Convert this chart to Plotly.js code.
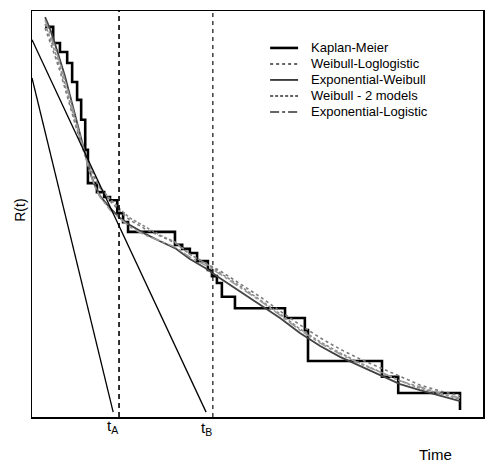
<!DOCTYPE html>
<html>
<head>
<meta charset="utf-8">
<script src="https://cdn.plot.ly/plotly-3.0.1.min.js"></script>
<style>html,body{margin:0;padding:0;background:#fff;}#chart{width:489px;height:464px;}</style>
</head>
<body>
<div id="chart"></div>
<script>
// Kaplan-Meier step estimate (time, R(t))
var kmTime = [2.9, 4.7, 6.2, 7.8, 8.9, 10.0, 10.9, 11.8, 12.4, 14.4, 16.0, 17.3, 18.9, 20.2, 21.3, 31.7, 33.3, 35.0, 36.6, 39.0, 39.9, 41.0, 42.1, 45.0, 56.1, 60.5, 61.2, 77.6, 81.2, 94.9];
var kmR    = [0.961, 0.921, 0.899, 0.872, 0.825, 0.781, 0.732, 0.658, 0.576, 0.554, 0.542, 0.534, 0.502, 0.480, 0.456, 0.424, 0.414, 0.404, 0.384, 0.362, 0.347, 0.330, 0.296, 0.268, 0.244, 0.214, 0.138, 0.099, 0.059, 0.017];

// Model curves (common time grid)
var modelTime = [2.9, 4.0, 5.1, 6.2, 7.3, 8.4, 9.5, 10.6, 11.8, 12.9, 14.0, 15.1, 17.3, 19.5, 21.7, 25.1, 28.4, 31.7, 35.0, 38.4, 41.7, 46.1, 50.6, 55.0, 59.4, 63.9, 68.3, 72.7, 77.2, 81.6, 86.0, 90.5, 94.9];
var weibullLoglogistic = [0.958, 0.926, 0.889, 0.852, 0.810, 0.768, 0.727, 0.682, 0.643, 0.611, 0.584, 0.564, 0.532, 0.507, 0.485, 0.463, 0.446, 0.429, 0.401, 0.379, 0.360, 0.328, 0.296, 0.261, 0.227, 0.195, 0.167, 0.143, 0.121, 0.099, 0.079, 0.064, 0.052];
var exponentialWeibull = [0.985, 0.956, 0.919, 0.882, 0.840, 0.793, 0.746, 0.697, 0.648, 0.601, 0.569, 0.544, 0.515, 0.490, 0.473, 0.451, 0.433, 0.416, 0.389, 0.367, 0.342, 0.310, 0.278, 0.244, 0.207, 0.175, 0.148, 0.126, 0.103, 0.081, 0.066, 0.052, 0.039];
var weibull2Models     = [0.968, 0.936, 0.899, 0.862, 0.820, 0.776, 0.731, 0.687, 0.645, 0.616, 0.589, 0.566, 0.537, 0.512, 0.490, 0.468, 0.448, 0.431, 0.401, 0.379, 0.355, 0.323, 0.288, 0.254, 0.217, 0.185, 0.158, 0.133, 0.111, 0.089, 0.071, 0.057, 0.044];
var exponentialLogistic= [0.978, 0.946, 0.909, 0.872, 0.830, 0.786, 0.739, 0.692, 0.645, 0.599, 0.566, 0.542, 0.510, 0.488, 0.468, 0.448, 0.433, 0.419, 0.394, 0.374, 0.352, 0.320, 0.286, 0.251, 0.214, 0.182, 0.155, 0.131, 0.111, 0.089, 0.074, 0.059, 0.047];

// Straight extrapolation lines reaching zero at tA and tB
var lineATime = [0, 18.0];
var lineAR    = [0.835, 0.012];
var lineBTime = [0, 38.6];
var lineBR    = [0.929, 0.012];

// Vertical reference times
var tA = 19.3;
var tB = 40.1;
var seriesNames = ["Kaplan-Meier", "Weibull-Loglogistic", "Exponential-Weibull", "Weibull - 2 models", "Exponential-Logistic"];

var FONT = "Liberation Sans, Arial, Helvetica, sans-serif";

var styles = [
  {shape: "hv", color: "#000", width: 2.6},
  {color: "#7a7a7a", width: 1.6, dash: "dot"},
  {color: "#444", width: 1.8},
  {color: "#8a8a8a", width: 1.6, dash: "3px,2px"},
  {color: "#9a9a9a", width: 1.6, dash: "dashdot"}
];
var seriesY = [kmR, weibullLoglogistic, exponentialWeibull, weibull2Models, exponentialLogistic];
var seriesX = [kmTime, modelTime, modelTime, modelTime, modelTime];

var traces = [];
for (var i = 0; i < seriesNames.length; i++) {
  traces.push({x: seriesX[i], y: seriesY[i], mode: "lines", line: styles[i], name: seriesNames[i], showlegend: false});
}
traces.push({x: lineATime, y: lineAR, mode: "lines", line: {color: "#000", width: 1.3}, showlegend: false});
traces.push({x: lineBTime, y: lineBR, mode: "lines", line: {color: "#000", width: 1.3}, showlegend: false});
traces.push({x: [tA, tA], y: [0, 1], mode: "lines", line: {color: "#000", width: 1.6, dash: "5px,4px"}, showlegend: false});
traces.push({x: [tB, tB], y: [0, 1], mode: "lines", line: {color: "#222", width: 1.3, dash: "4px,4px"}, showlegend: false});

// Hand-built legend (sample line + label per series)
var shapes = [];
var annotations = [
  {text: "Time", xref: "paper", yref: "paper", x: 0.895, y: -0.093, xanchor: "center", yanchor: "middle",
   showarrow: false, font: {family: FONT, size: 15}},
  {text: "R(t)", xref: "paper", yref: "paper", x: -0.027, y: 0.51, xanchor: "center", yanchor: "middle",
   textangle: -90, showarrow: false, font: {family: FONT, size: 14}},
  {text: "t<sub>A</sub>", xref: "x", yref: "paper", x: 17.8, y: -0.024, xanchor: "center", yanchor: "middle",
   showarrow: false, font: {family: FONT, size: 15}},
  {text: "t<sub>B</sub>", xref: "x", yref: "paper", x: 38.6, y: -0.028, xanchor: "center", yanchor: "middle",
   showarrow: false, font: {family: FONT, size: 15}}
];
var legTop = 0.909, legStep = 0.0394;
for (var k = 0; k < seriesNames.length; k++) {
  var yy = legTop - k * legStep;
  var st = styles[k];
  shapes.push({type: "line", xref: "paper", yref: "paper", x0: 0.528, x1: 0.590, y0: yy, y1: yy,
               line: {color: k === 0 ? "#000" : "#333", width: st.width, dash: st.dash || "solid"}});
  annotations.push({text: seriesNames[k], xref: "paper", yref: "paper", x: 0.614, y: yy,
                    xanchor: "left", yanchor: "middle", showarrow: false,
                    font: {family: FONT, size: 13, color: "#000"}});
}

var layout = {
  width: 489, height: 464,
  margin: {l: 32, r: 6, t: 11, b: 47},
  paper_bgcolor: "#fff", plot_bgcolor: "#fff",
  font: {family: FONT, color: "#000", size: 12},
  showlegend: false,
  xaxis: {range: [0, 100], showline: true, mirror: true, linecolor: "#000", linewidth: 1.5,
          showgrid: false, zeroline: false, ticks: "", showticklabels: false, fixedrange: true},
  yaxis: {range: [0, 1], showline: true, mirror: true, linecolor: "#000", linewidth: 1.5,
          showgrid: false, zeroline: false, ticks: "", showticklabels: false, fixedrange: true},
  shapes: shapes,
  annotations: annotations
};

Plotly.newPlot("chart", traces, layout, {displayModeBar: false, staticPlot: true});
</script>
</body>
</html>
